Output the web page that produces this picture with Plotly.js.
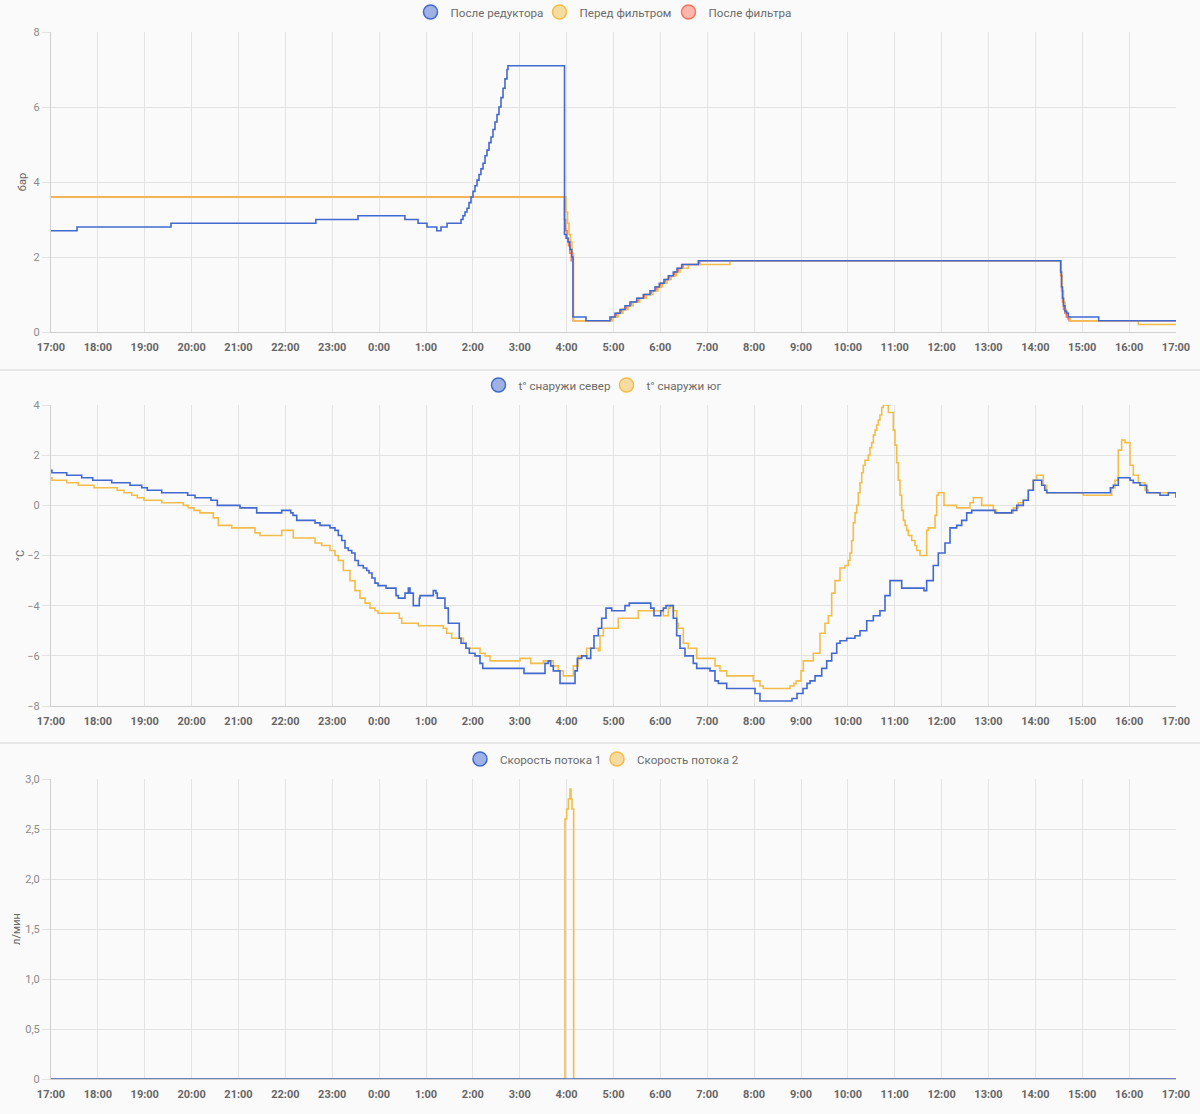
<!DOCTYPE html>
<html>
<head>
<meta charset="utf-8">
<script src="https://cdn.plot.ly/plotly-3.0.1.min.js"></script>
<style>
html,body{margin:0;padding:0;background:#fafafa;}
#chart{width:1200px;height:1114px;}
</style>
</head>
<body>
<div id="chart"></div>
<script>
// ---------- tick labels (hours from 17:00) ----------
const hourTicks = [0,1,2,3,4,5,6,7,8,9,10,11,12,13,14,15,16,17,18,19,20,21,22,23,24];
const hourLabels = ['17:00','18:00','19:00','20:00','21:00','22:00','23:00','0:00','1:00','2:00','3:00','4:00','5:00','6:00','7:00','8:00','9:00','10:00','11:00','12:00','13:00','14:00','15:00','16:00','17:00'];

// ---------- chart 1: pressure, bar ----------
const pressureNames = ['После редуктора','Перед фильтром','После фильтра'];
const reducerT = [0,0.555,2.56,5.65,6.55,7.55,7.83,8.02,8.23,8.32,8.45,
  8.747,8.789,8.832,8.875,8.917,8.96,9.003,9.045,9.088,9.131,9.173,9.216,9.259,9.301,9.344,9.387,9.429,9.472,9.515,9.557,9.6,9.643,9.685,9.728,9.749,
  10.955,10.99,11.03,11.07,11.11,11.136,11.413,
  11.925,12.032,12.139,12.245,12.352,12.495,12.636,12.779,12.885,12.977,13.077,13.169,13.276,13.355,13.455,13.809,
  21.54,21.558,21.579,21.6,21.632,21.668,21.702,22.351,24];
const reducerV = [2.7,2.8,2.9,3.0,3.1,3.0,2.9,2.8,2.7,2.8,2.9,
  3.0,3.1,3.2,3.3,3.45,3.6,3.75,3.9,4.05,4.2,4.35,4.5,4.7,4.85,5.05,5.2,5.4,5.6,5.8,6.0,6.25,6.5,6.75,7.0,7.1,
  2.6,2.5,2.4,2.2,2.0,0.4,0.3,
  0.4,0.5,0.6,0.7,0.8,0.9,1.0,1.1,1.2,1.3,1.4,1.5,1.6,1.7,1.8,1.9,
  1.6,1.2,0.9,0.7,0.55,0.5,0.4,0.3,0.3];
const filterInT = [0,10.955,10.987,11.019,11.051,11.083,11.115,11.147,
  11.989,12.096,12.203,12.309,12.416,12.559,12.7,12.843,12.949,13.041,13.141,13.233,13.34,13.419,13.596,14.485,
  21.55,21.57,21.6,21.63,21.66,21.7,21.739,23.196,24];
const filterInV = [3.6,3.6,3.2,2.9,2.6,2.4,2.1,0.3,
  0.4,0.5,0.6,0.7,0.8,0.9,1.0,1.1,1.2,1.3,1.4,1.5,1.6,1.7,1.8,1.9,
  1.5,1.1,0.8,0.6,0.5,0.4,0.3,0.2,0.2];
const filterOutT = [0,10.955,10.98,11.01,11.04,11.07,11.1,11.14,
  11.955,12.062,12.169,12.275,12.382,12.525,12.666,12.809,12.915,13.007,13.107,13.199,13.306,13.385,13.485,13.839,
  21.54,21.56,21.58,21.6,21.63,21.66,21.7,21.72,24];
const filterOutV = [3.6,3.0,2.7,2.5,2.3,2.1,1.9,0.3,
  0.4,0.5,0.6,0.7,0.8,0.9,1.0,1.1,1.2,1.3,1.4,1.5,1.6,1.7,1.8,1.9,
  1.5,1.1,0.8,0.6,0.5,0.4,0.35,0.3,0.3];

// ---------- chart 2: outside temperature, °C ----------
const tempNames = ['t° снаружи север','t° снаружи юг'];
const northT = [0,0.021,0.335,0.655,0.89,1.295,1.685,1.935,2.054,2.362,
  2.916,3.072,3.413,3.548,4.032,4.388,4.922,5.114,5.163,5.242,
  5.632,5.739,5.952,6.059,6.129,6.202,6.272,6.342,6.415,6.485,
  6.556,6.662,6.735,6.784,6.848,6.912,6.976,7.147,7.36,7.409,
  7.552,7.623,7.659,7.729,7.857,7.872,8.156,8.213,8.241,8.405,
  8.476,8.71,8.747,8.853,8.924,9.045,9.152,9.21,10.091,10.539,
  10.609,10.66,10.716,10.859,11.179,11.228,11.321,11.428,11.514,11.584,
  11.676,11.748,11.84,11.962,12.245,12.337,12.794,12.864,13.007,13.063,
  13.12,13.276,13.348,13.419,13.525,13.702,13.775,14.059,14.165,14.236,
  14.415,15.019,15.125,15.808,15.915,16.043,16.128,16.192,16.299,16.442,
  16.548,16.655,16.762,16.832,16.975,17.152,17.259,17.402,17.543,17.685,
  17.792,17.899,18.148,18.624,18.681,18.822,18.929,19.072,19.179,19.322,
  19.428,19.535,19.642,20.139,20.495,20.602,20.743,20.849,20.956,21.135,
  21.2,21.242,22.6,22.663,22.769,23.019,23.089,23.232,23.375,23.659,
  23.836,24];
const northV = [1.4,1.3,1.2,1.1,1.0,0.9,0.8,0.7,0.6,0.5,
  0.4,0.3,0.2,0.0,-0.1,-0.3,-0.2,-0.3,-0.4,-0.6,
  -0.7,-0.8,-0.9,-1.0,-1.2,-1.4,-1.7,-1.8,-1.9,-2.2,
  -2.4,-2.5,-2.6,-2.7,-2.9,-3.1,-3.2,-3.3,-3.6,-3.7,
  -3.5,-3.3,-3.5,-4.0,-3.7,-3.6,-3.4,-3.5,-3.7,-4.1,
  -4.7,-5.3,-5.5,-5.7,-5.9,-6.0,-6.3,-6.5,-6.7,-6.3,
  -6.2,-6.4,-6.6,-7.1,-6.6,-6.1,-6.0,-6.1,-5.7,-5.2,
  -4.9,-4.5,-4.1,-4.2,-4.0,-3.9,-4.1,-4.4,-4.2,-4.1,
  -4.0,-4.5,-5.2,-5.7,-6.0,-6.3,-6.5,-6.6,-7.0,-7.1,
  -7.3,-7.5,-7.8,-7.7,-7.5,-7.3,-7.1,-7.0,-6.8,-6.5,
  -6.2,-5.9,-5.5,-5.4,-5.3,-5.2,-5.0,-4.6,-4.4,-4.2,
  -3.6,-3.0,-3.3,-3.4,-3.0,-2.4,-1.9,-1.5,-0.9,-0.8,
  -0.6,-0.3,-0.2,-0.3,-0.2,0.0,0.2,0.6,1.0,0.8,
  0.6,0.5,0.7,0.8,1.1,1.0,0.9,0.8,0.5,0.4,
  0.5,0.3];
const southT = [0,0.021,0.335,0.58,0.917,1.414,1.557,1.722,1.841,1.984,
  2.362,2.822,2.929,3.051,3.179,3.462,3.569,3.855,4.352,4.459,
  4.922,5.169,5.632,5.775,5.952,6.059,6.129,6.236,6.379,6.485,
  6.592,6.699,6.805,6.912,6.976,7.43,7.482,7.836,8.369,8.442,
  8.548,8.796,8.853,9.152,9.259,9.365,10.005,10.234,10.502,10.716,
  10.823,10.929,11.143,11.249,11.428,11.676,11.712,11.783,12.102,12.529,
  13.063,13.169,13.205,13.276,13.348,13.383,13.489,13.596,13.775,14.165,
  14.272,14.415,14.983,15.125,15.196,15.765,15.85,15.9,16.0,16.05,
  16.263,16.405,16.512,16.583,16.655,16.725,
  16.832,16.939,17.009,17.045,17.081,17.116,17.152,17.188,17.223,17.259,
  17.295,17.329,17.365,17.436,17.472,17.508,17.543,17.579,17.615,17.649,
  17.685,17.722,17.756,17.863,17.969,18.005,18.041,18.076,18.112,18.148,
  18.183,18.219,18.255,18.289,18.361,18.432,18.468,18.539,18.681,18.716,
  18.859,18.895,18.929,19.051,
  19.322,19.605,19.676,19.855,20.103,20.175,20.529,
  20.636,20.743,20.849,20.956,21.028,21.169,21.242,22.023,22.628,22.699,
  22.769,22.841,22.912,23.019,23.089,23.196,23.339,23.409,24];
const southV = [1.1,1.0,0.9,0.8,0.7,0.6,0.5,0.4,0.3,0.2,
  0.1,0.0,-0.1,-0.2,-0.3,-0.5,-0.8,-0.9,-1.1,-1.2,
  -1.0,-1.3,-1.5,-1.6,-1.8,-2.0,-2.2,-2.6,-3.0,-3.4,
  -3.7,-3.9,-4.1,-4.2,-4.3,-4.5,-4.7,-4.8,-4.9,-5.1,
  -5.3,-5.5,-5.7,-5.9,-6.0,-6.2,-6.1,-6.3,-6.2,-6.4,
  -6.6,-6.8,-6.4,-6.0,-5.7,-5.8,-5.2,-4.9,-4.5,-4.2,
  -4.4,-4.1,-4.0,-4.2,-4.7,-4.9,-5.5,-5.7,-6.1,-6.4,
  -6.6,-6.8,-7.0,-7.2,-7.3,-7.2,-7.1,-7.0,-6.6,-6.2,
  -5.9,-5.1,-4.7,-4.4,-3.5,-3.0,
  -2.5,-2.4,-2.2,-1.9,-1.4,-0.7,-0.3,0.0,0.5,0.9,
  1.3,1.6,1.8,2.0,2.3,2.5,2.8,3.0,3.2,3.4,
  3.6,3.9,4.0,3.7,3.0,2.4,1.7,1.0,0.4,-0.2,
  -0.6,-0.8,-1.0,-1.2,-1.4,-1.6,-1.8,-2.0,-1.0,-0.9,
  -0.4,0.4,0.5,0.0,
  -0.1,0.1,0.3,0.0,-0.2,-0.3,-0.1,
  0.1,0.2,0.6,1.0,1.2,0.8,0.5,0.4,0.7,1.0,
  2.2,2.6,2.5,1.6,1.2,0.9,0.6,0.5,0.5];

// ---------- chart 3: flow rate, l/min ----------
const flowNames = ['Скорость потока 1','Скорость потока 2'];
const flow1T = [0,24];
const flow1V = [0,0];
const flow2T = [0,10.965,11.001,11.037,11.072,11.093,11.115,11.15,24];
const flow2V = [0,2.6,2.7,2.8,2.9,2.8,2.7,0,0];
const flowTickVals = [0,0.5,1,1.5,2,2.5,3];
const flowTickText = ['0','0,5','1,0','1,5','2,0','2,5','3,0'];

// ---------- styling ----------
const BLUE='#4269d0', ORANGE='#f4bd4a', RED='#ff725c';
const FILL={};
FILL[BLUE]='rgba(66,105,208,0.5)'; FILL[ORANGE]='rgba(244,189,74,0.5)'; FILL[RED]='rgba(255,114,92,0.5)';
const FONT='Roboto, "Open Sans", sans-serif';

function line(x,y,color,xa,ya){
  return {x:x,y:y,type:'scatter',mode:'lines',line:{color:color,width:1.6,shape:'hv'},
    xaxis:xa,yaxis:ya,showlegend:false,hoverinfo:'skip'};
}
function legendItem(name,color,xa,ya,leg,lw){
  return {x:[null],y:[null],type:'scatter',mode:'markers',name:name,xaxis:xa,yaxis:ya,legend:leg,legendwidth:lw,
    marker:{symbol:'circle',size:14,color:FILL[color],line:{color:color,width:1.5}},hoverinfo:'skip'};
}

const traces = [
  legendItem(pressureNames[0],BLUE,'x','y','legend',84),
  legendItem(pressureNames[1],ORANGE,'x','y','legend',84),
  legendItem(pressureNames[2],RED,'x','y','legend',92),
  line(filterOutT,filterOutV,RED,'x','y'),
  line(filterInT,filterInV,ORANGE,'x','y'),
  line(reducerT,reducerV,BLUE,'x','y'),

  legendItem(tempNames[0],BLUE,'x2','y2','legend2',83),
  legendItem(tempNames[1],ORANGE,'x2','y2','legend2',88),
  line(southT,southV,ORANGE,'x2','y2'),
  line(northT,northV,BLUE,'x2','y2'),

  legendItem(flowNames[0],BLUE,'x3','y3','legend3',92),
  legendItem(flowNames[1],ORANGE,'x3','y3','legend3',112),
  line(flow2T,flow2V,ORANGE,'x3','y3'),
  line(flow1T,flow1V,BLUE,'x3','y3')
];

const H=1114, W=1200;
const GRID='#e3e3e3', AXL='#cfcfcf';
function xAxis(anchor){
  return {domain:[51/W,1176/W],range:[0,24],anchor:anchor,tickmode:'array',tickvals:hourTicks,ticktext:hourLabels,
    showgrid:true,gridcolor:GRID,gridwidth:1,zeroline:false,showline:true,linecolor:AXL,linewidth:1,ticks:'',
    ticklabelstandoff:5,
    tickfont:{family:FONT,size:11,color:'#666',weight:'bold'},fixedrange:true};
}
function yAxis(anchor,top,bottom,range,title,standoff){
  return {domain:[1-bottom/H,1-top/H],range:range,anchor:anchor,showgrid:true,gridcolor:GRID,gridwidth:1,
    zeroline:false,showline:true,linecolor:AXL,linewidth:1,ticks:'outside',ticklen:8,tickcolor:GRID,
    tickfont:{family:FONT,size:11,color:'#8a8a8a'},
    title:{text:title,font:{family:FONT,size:11,color:'#666'},standoff:standoff},fixedrange:true};
}
function legendCfg(ypx,dx){
  return {orientation:'h',x:0.5+dx/W,xanchor:'center',y:1-ypx/H,yanchor:'middle',bgcolor:'rgba(0,0,0,0)',
    font:{family:FONT,size:11.6,color:'#6b6b6b'},itemwidth:30,itemclick:false,itemdoubleclick:false};
}

const layout = {
  width:W,height:H,margin:{l:0,r:0,t:0,b:0,autoexpand:false},
  paper_bgcolor:'#fafafa',plot_bgcolor:'#fafafa',
  font:{family:FONT},
  showlegend:true,
  xaxis:xAxis('y'), xaxis2:xAxis('y2'), xaxis3:xAxis('y3'),
  yaxis:Object.assign(yAxis('x',32,332,[0,8],'бар',4),{dtick:2,tick0:0}),
  yaxis2:Object.assign(yAxis('x2',405,706,[-8,4],'°C',0),{dtick:2,tick0:0}),
  yaxis3:Object.assign(yAxis('x3',779,1079,[0,3],'л/мин',2),{tickmode:'array',tickvals:flowTickVals,ticktext:flowTickText}),
  legend:legendCfg(12,8), legend2:legendCfg(385,9), legend3:legendCfg(759,7),
  shapes:[
    {type:'line',xref:'paper',yref:'paper',x0:0,x1:1,y0:1-370/H,y1:1-370/H,line:{color:'#e0e0e0',width:1.5}},
    {type:'line',xref:'paper',yref:'paper',x0:0,x1:1,y0:1-743/H,y1:1-743/H,line:{color:'#e0e0e0',width:1.5}}
  ]
};

Plotly.newPlot('chart',traces,layout,{displayModeBar:false,staticPlot:true});
</script>
</body>
</html>
